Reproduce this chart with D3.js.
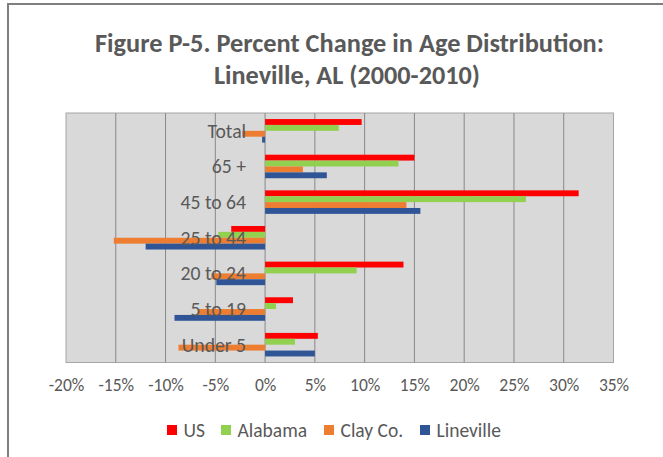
<!DOCTYPE html>
<html>
<head>
<meta charset="utf-8">
<script src="https://cdn.jsdelivr.net/npm/d3@7"></script>
<style>
  html, body { margin: 0; padding: 0; background: #fff; }
  svg { display: block; }
  text { font-family: Carlito, "Open Sans", "Liberation Sans", sans-serif; }
</style>
</head>
<body>
<div class="chart-wrapper"></div>
<script>
const categories = ['Total', '65 +', '45 to 64', '25 to 44', '20 to 24', '5 to 19', 'Under 5'];
const seriesNames = ['US', 'Alabama', 'Clay Co.', 'Lineville'];
const usValues = [9.7, 15.0, 31.5, -3.4, 13.9, 2.8, 5.3];
const alabamaValues = [7.4, 13.4, 26.2, -4.7, 9.2, 1.1, 3.0];
const clayValues = [-2.3, 3.8, 14.2, -15.2, -5.4, -6.7, -8.7];
const linevilleValues = [-0.3, 6.2, 15.6, -12.0, -4.9, -9.1, 5.0];
const xTicks = [-20, -15, -10, -5, 0, 5, 10, 15, 20, 25, 30, 35];

const seriesColors = ['#ff0000', '#92d050', '#ed7d31', '#2f5597'];
const allValues = [usValues, alabamaValues, clayValues, linevilleValues];

const width = 663;
const height = 457;
const plot = { left: 66, right: 613.5, top: 113, bottom: 362.5 };

let svg = d3.select('.chart-wrapper').append('svg')
    .attr('width', width)
    .attr('height', height);

// outer chart border (cut at the right and bottom)
svg.append('path')
    .attr('d', `M8,${height} L8,4 L${width},4`)
    .attr('fill', 'none')
    .attr('stroke', '#7f7f7f')
    .attr('stroke-width', 2);

// title
let title = svg.append('g')
    .attr('fill', '#595959')
    .attr('font-weight', 'bold')
    .attr('font-size', 26)
    .attr('text-anchor', 'middle');
title.append('text')
    .attr('x', 349.5).attr('y', 52)
    .attr('textLength', 509).attr('lengthAdjust', 'spacingAndGlyphs')
    .text('Figure P-5. Percent Change in Age Distribution:');
title.append('text')
    .attr('x', 347).attr('y', 84)
    .attr('textLength', 266).attr('lengthAdjust', 'spacingAndGlyphs')
    .text('Lineville, AL (2000-2010)');

let x = d3.scaleLinear()
    .domain([d3.min(xTicks), d3.max(xTicks)])
    .range([plot.left, plot.right]);

let y = d3.scaleBand()
    .domain(categories)
    .range([plot.top, plot.bottom])
    .paddingInner(0.34)
    .paddingOuter(0.17);

let ySeries = d3.scaleBand()
    .domain(seriesNames)
    .range([0, y.bandwidth()]);

// plot background
svg.append('rect')
    .attr('x', plot.left)
    .attr('y', plot.top)
    .attr('width', plot.right - plot.left)
    .attr('height', plot.bottom - plot.top)
    .attr('fill', '#d9d9d9')
    .attr('stroke', '#a6a6a6')
    .attr('stroke-width', 1);

// vertical gridlines
svg.append('g')
    .selectAll('line')
    .data(xTicks.slice(1, -1))
    .enter()
    .append('line')
    .attr('x1', (d) => x(d))
    .attr('x2', (d) => x(d))
    .attr('y1', plot.top)
    .attr('y2', plot.bottom)
    .attr('stroke', '#888888')
    .attr('stroke-width', 1);

// x axis tick labels
let xAxis = svg.append('g')
    .attr('transform', `translate(0, ${plot.bottom})`)
    .call(d3.axisBottom(x)
        .tickValues(xTicks)
        .tickSize(0)
        .tickPadding(16)
        .tickFormat((d) => d + '%'));
xAxis.select('.domain').remove();
xAxis.selectAll('text')
    .attr('fill', '#595959')
    .attr('font-size', 17.5);

// bars
let barData = [];
categories.forEach((cat, i) => {
    seriesNames.forEach((s, j) => {
        barData.push({ cat: cat, series: s, value: allValues[j][i], color: seriesColors[j] });
    });
});

svg.append('g')
    .attr('class', 'bars-group')
    .selectAll('.bar')
    .data(barData)
    .enter()
    .append('rect')
    .attr('class', 'bar')
    .attr('x', (d) => x(Math.min(0, d.value)))
    .attr('y', (d) => y(d.cat) + ySeries(d.series))
    .attr('width', (d) => Math.abs(x(d.value) - x(0)))
    .attr('height', ySeries.bandwidth())
    .attr('fill', (d) => d.color);

// category labels, drawn near the zero line
svg.append('g')
    .selectAll('.cat-label')
    .data(categories)
    .enter()
    .append('text')
    .attr('class', 'cat-label')
    .attr('x', x(0) - 19)
    .attr('y', (d) => y(d) + y.bandwidth() / 2)
    .attr('dy', '0.35em')
    .attr('text-anchor', 'end')
    .attr('fill', '#595959')
    .attr('font-size', 19.7)
    .text((d) => d);

// legend
const legendX = [167, 221, 324, 420];
let legend = svg.append('g')
    .selectAll('.legend-item')
    .data(seriesNames)
    .enter()
    .append('g')
    .attr('class', 'legend-item')
    .attr('transform', (d, i) => `translate(${legendX[i]}, 430)`);
legend.append('rect')
    .attr('x', 0).attr('y', -5)
    .attr('width', 10).attr('height', 10)
    .attr('fill', (d, i) => seriesColors[i]);
legend.append('text')
    .attr('x', 16.5)
    .attr('dy', '0.35em')
    .attr('fill', '#595959')
    .attr('font-size', 19.5)
    .text((d) => d);
</script>
</body>
</html>
